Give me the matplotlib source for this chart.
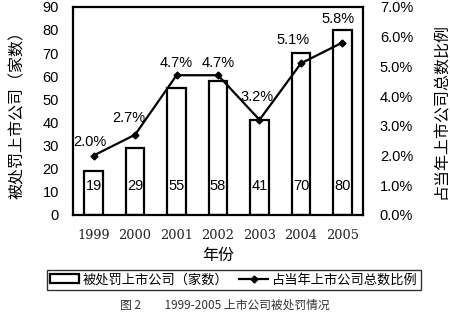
import matplotlib.pyplot as plt
import numpy as np

plt.rcParams['font.family'] = ['Liberation Sans', 'Noto Sans CJK SC']

years = ["1999", "2000", "2001", "2002", "2003", "2004", "2005"]
counts = [19, 29, 55, 58, 41, 70, 80]
ratios = [2.0, 2.7, 4.7, 4.7, 3.2, 5.1, 5.8]

# where the percent labels sit relative to their points (style, not data)
label_dx = [-0.08, -0.15, 0.0, 0.0, -0.05, -0.2, -0.1]
label_dy = [0.46, 0.56, 0.42, 0.42, 0.77, 0.8, 0.8]

cjk = ['Noto Sans CJK SC', 'DejaVu Sans']

fig = plt.figure(figsize=(4.5, 3.12), dpi=100, facecolor="white")
ax = fig.add_axes([0.162, 0.311, 0.645, 0.667])
x = np.arange(len(years))

bars = ax.bar(x, counts, width=0.45, facecolor="white", edgecolor="black",
              linewidth=1.6, label="被处罚上市公司（家数）")
for xi, c in zip(x, counts):
    ax.text(xi, 12.5, str(c), ha="center", va="center", fontsize=10.5)

ax.tick_params(axis="both", length=0)
ax.tick_params(axis="y", pad=10, labelsize=10.5)
ax.tick_params(axis="x", pad=10)
ax.set_xlim(-0.5, len(years) - 0.5)
ax.set_ylim(0, 90)
ax.set_yticks(range(0, 91, 10))
ax.set_xticks(x)
ax.set_xticklabels(years, family="DejaVu Serif", fontsize=9.3, color="#222222")
for s in ax.spines.values():
    s.set_linewidth(1.6)
ax.set_xlabel("年份", family=cjk, fontsize=11.5, labelpad=4)
ax.set_ylabel("被处罚上市公司（家数）", family=cjk, fontsize=11.5, labelpad=12)

ax2 = ax.twinx()
line, = ax2.plot(x, ratios, color="black", linewidth=1.6, marker="D",
                 markersize=3.5, label="占当年上市公司总数比例")
for xi, r, dx, dy in zip(x, ratios, label_dx, label_dy):
    ax2.text(xi + dx, r + dy, f"{r:.1f}%", ha="center", va="center", fontsize=10.5)
ax2.set_ylim(0, 7)
ax2.set_yticks(np.arange(0, 7.1, 1))
ax2.set_yticklabels([f"{v:.1f}%" for v in np.arange(0, 7.1, 1)])
ax2.tick_params(axis="y", length=0, labelsize=10.5, pad=12)
ax2.set_ylabel("占当年上市公司总数比例", family=cjk, fontsize=11.5, labelpad=14)
for s in ax2.spines.values():
    s.set_visible(False)

leg = fig.legend([bars, line], ["被处罚上市公司（家数）", "占当年上市公司总数比例"],
                 loc="center", bbox_to_anchor=(0.52, 0.103), ncol=2,
                 prop={"family": cjk, "size": 9.5}, frameon=True, fancybox=False,
                 edgecolor="black", handlelength=2.2, handletextpad=0.3,
                 columnspacing=0.8, borderpad=0.25)
leg.get_frame().set_linewidth(1.0)

fig.text(0.5, 0.022, "图 2　　1999-2005 上市公司被处罚情况", family=cjk,
         fontsize=8.5, ha="center", va="center", color="#333333")

fig.savefig("out.png", dpi=100, facecolor="white")
